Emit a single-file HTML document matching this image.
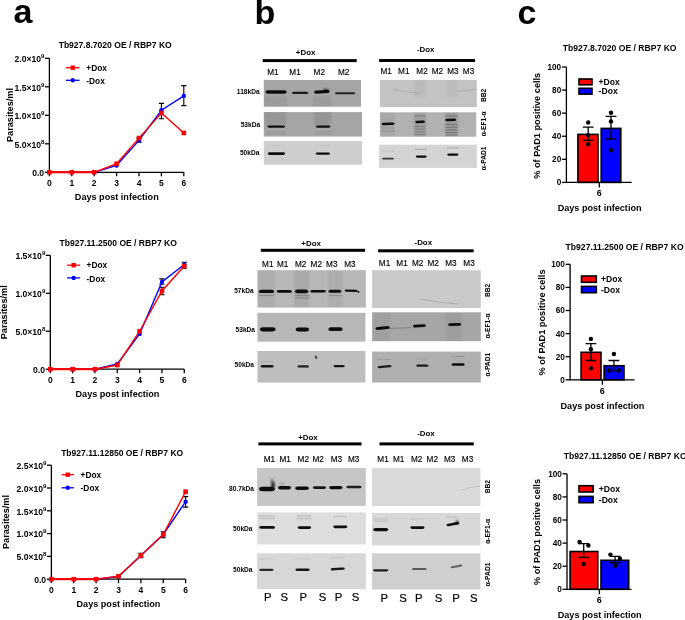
<!DOCTYPE html>
<html><head><meta charset="utf-8"><style>
html,body{margin:0;padding:0;background:#fff;}
body{width:685px;height:620px;overflow:hidden;}
svg{display:block;font-family:"Liberation Sans", sans-serif;will-change:transform;}
</style></head><body>
<svg width="685" height="620" viewBox="0 0 685 620">
<defs><filter id="bl" x="-20%" y="-200%" width="140%" height="500%"><feGaussianBlur stdDeviation="0.65"/></filter><filter id="bl3" x="-20%" y="-300%" width="140%" height="700%"><feGaussianBlur stdDeviation="0.6"/></filter><filter id="bl2" x="-50%" y="-50%" width="200%" height="200%"><feGaussianBlur stdDeviation="1.2"/></filter></defs>
<rect width="685" height="620" fill="#fff"/>
<text x="13.60" y="22.50" font-size="34" font-weight="bold" text-anchor="start" fill="#000" >a</text>
<text x="254.60" y="23.50" font-size="34" font-weight="bold" text-anchor="start" fill="#000" >b</text>
<text x="517.40" y="23.70" font-size="34" font-weight="bold" text-anchor="start" fill="#000" >c</text>
<text x="115.20" y="47.80" font-size="8.55" font-weight="bold" text-anchor="middle" fill="#000" >Tb927.8.7020 OE / RBP7 KO</text>
<path d="M49.40,58.30 L49.40,172.30 L183.80,172.30" fill="none" stroke="#000" stroke-width="1.3"/>
<line x1="44.90" y1="172.30" x2="49.40" y2="172.30" stroke="#000" stroke-width="1.3"/>
<text x="44.10" y="175.90" font-size="8.6" font-weight="bold" text-anchor="end" fill="#000" >0.0</text>
<line x1="44.90" y1="143.80" x2="49.40" y2="143.80" stroke="#000" stroke-width="1.3"/>
<text x="44.40" y="147.50" font-size="8.6" font-weight="bold" text-anchor="end">5.0×10<tspan font-size="6.1" dy="-3.9">8</tspan></text>
<line x1="44.90" y1="115.30" x2="49.40" y2="115.30" stroke="#000" stroke-width="1.3"/>
<text x="44.40" y="119.00" font-size="8.6" font-weight="bold" text-anchor="end">1.0×10<tspan font-size="6.1" dy="-3.9">9</tspan></text>
<line x1="44.90" y1="86.80" x2="49.40" y2="86.80" stroke="#000" stroke-width="1.3"/>
<text x="44.40" y="90.50" font-size="8.6" font-weight="bold" text-anchor="end">1.5×10<tspan font-size="6.1" dy="-3.9">9</tspan></text>
<line x1="44.90" y1="58.30" x2="49.40" y2="58.30" stroke="#000" stroke-width="1.3"/>
<text x="44.40" y="62.00" font-size="8.6" font-weight="bold" text-anchor="end">2.0×10<tspan font-size="6.1" dy="-3.9">9</tspan></text>
<line x1="49.40" y1="172.30" x2="49.40" y2="176.30" stroke="#000" stroke-width="1.3"/>
<text x="49.40" y="185.60" font-size="8.5" font-weight="bold" text-anchor="middle" fill="#000" >0</text>
<line x1="71.80" y1="172.30" x2="71.80" y2="176.30" stroke="#000" stroke-width="1.3"/>
<text x="71.80" y="185.60" font-size="8.5" font-weight="bold" text-anchor="middle" fill="#000" >1</text>
<line x1="94.20" y1="172.30" x2="94.20" y2="176.30" stroke="#000" stroke-width="1.3"/>
<text x="94.20" y="185.60" font-size="8.5" font-weight="bold" text-anchor="middle" fill="#000" >2</text>
<line x1="116.60" y1="172.30" x2="116.60" y2="176.30" stroke="#000" stroke-width="1.3"/>
<text x="116.60" y="185.60" font-size="8.5" font-weight="bold" text-anchor="middle" fill="#000" >3</text>
<line x1="139.00" y1="172.30" x2="139.00" y2="176.30" stroke="#000" stroke-width="1.3"/>
<text x="139.00" y="185.60" font-size="8.5" font-weight="bold" text-anchor="middle" fill="#000" >4</text>
<line x1="161.40" y1="172.30" x2="161.40" y2="176.30" stroke="#000" stroke-width="1.3"/>
<text x="161.40" y="185.60" font-size="8.5" font-weight="bold" text-anchor="middle" fill="#000" >5</text>
<line x1="183.80" y1="172.30" x2="183.80" y2="176.30" stroke="#000" stroke-width="1.3"/>
<text x="183.80" y="185.60" font-size="8.5" font-weight="bold" text-anchor="middle" fill="#000" >6</text>
<text x="116.80" y="199.60" font-size="9.1" font-weight="bold" text-anchor="middle" fill="#000" >Days post infection</text>
<text x="0" y="0" font-size="9.2" font-weight="bold" text-anchor="middle" transform="translate(9.70,115.00) rotate(-90)" dy="3.31">Parasites/ml</text>
<line x1="66" y1="67.7" x2="79.5" y2="67.7" stroke="#f00" stroke-width="1.3"/>
<rect x="70.55" y="65.50" width="4.4" height="4.4" fill="#f00"/>
<text x="86.30" y="70.80" font-size="8.35" font-weight="bold" text-anchor="start" fill="#000" >+Dox</text>
<line x1="66" y1="80.3" x2="79.5" y2="80.3" stroke="#00f" stroke-width="1.3"/>
<circle cx="72.75" cy="80.30" r="2.2" fill="#00f"/>
<text x="86.30" y="83.90" font-size="8.35" font-weight="bold" text-anchor="start" fill="#000" >-Dox</text>
<path d="M161.40,118.72 L161.40,103.33 M158.80,118.72 L164.00,118.72 M158.80,103.33 L164.00,103.33" stroke="#000" stroke-width="1.1" fill="none"/>
<path d="M183.80,105.61 L183.80,85.66 M181.20,105.61 L186.40,105.61 M181.20,85.66 L186.40,85.66" stroke="#000" stroke-width="1.1" fill="none"/>
<path d="M139.00,142.09 L139.00,138.10 M136.40,142.09 L141.60,142.09 M136.40,138.10 L141.60,138.10" stroke="#000" stroke-width="1.1" fill="none"/>
<polyline points="49.40,172.30 71.80,172.30 94.20,172.30 116.60,165.46 139.00,140.38 161.40,110.17 183.80,95.92" fill="none" stroke="#00f" stroke-width="1.4"/>
<circle cx="49.40" cy="172.30" r="2.2" fill="#00f"/>
<circle cx="71.80" cy="172.30" r="2.2" fill="#00f"/>
<circle cx="94.20" cy="172.30" r="2.2" fill="#00f"/>
<circle cx="116.60" cy="165.46" r="2.2" fill="#00f"/>
<circle cx="139.00" cy="140.38" r="2.2" fill="#00f"/>
<circle cx="161.40" cy="110.17" r="2.2" fill="#00f"/>
<circle cx="183.80" cy="95.92" r="2.2" fill="#00f"/>
<polyline points="49.40,172.30 71.80,172.30 94.20,172.30 116.60,163.75 139.00,138.10 161.40,113.02 183.80,132.97" fill="none" stroke="#f00" stroke-width="1.4"/>
<rect x="49.40" y="171.30" width="44.80" height="2.0" fill="#f00"/>
<rect x="47.10" y="170.00" width="4.6" height="4.6" fill="#f00"/>
<rect x="69.50" y="170.00" width="4.6" height="4.6" fill="#f00"/>
<rect x="91.90" y="170.00" width="4.6" height="4.6" fill="#f00"/>
<rect x="114.30" y="161.45" width="4.6" height="4.6" fill="#f00"/>
<rect x="136.70" y="135.80" width="4.6" height="4.6" fill="#f00"/>
<rect x="159.10" y="110.72" width="4.6" height="4.6" fill="#f00"/>
<rect x="181.50" y="130.67" width="4.6" height="4.6" fill="#f00"/>
<text x="118.20" y="245.80" font-size="8.55" font-weight="bold" text-anchor="middle" fill="#000" >Tb927.11.2500 OE / RBP7 KO</text>
<path d="M50.30,255.35 L50.30,369.20 L184.28,369.20" fill="none" stroke="#000" stroke-width="1.3"/>
<line x1="45.80" y1="369.20" x2="50.30" y2="369.20" stroke="#000" stroke-width="1.3"/>
<text x="45.00" y="372.80" font-size="8.6" font-weight="bold" text-anchor="end" fill="#000" >0.0</text>
<line x1="45.80" y1="331.25" x2="50.30" y2="331.25" stroke="#000" stroke-width="1.3"/>
<text x="45.30" y="334.95" font-size="8.6" font-weight="bold" text-anchor="end">5.0×10<tspan font-size="6.1" dy="-3.9">8</tspan></text>
<line x1="45.80" y1="293.30" x2="50.30" y2="293.30" stroke="#000" stroke-width="1.3"/>
<text x="45.30" y="297.00" font-size="8.6" font-weight="bold" text-anchor="end">1.0×10<tspan font-size="6.1" dy="-3.9">9</tspan></text>
<line x1="45.80" y1="255.35" x2="50.30" y2="255.35" stroke="#000" stroke-width="1.3"/>
<text x="45.30" y="259.05" font-size="8.6" font-weight="bold" text-anchor="end">1.5×10<tspan font-size="6.1" dy="-3.9">9</tspan></text>
<line x1="50.30" y1="369.20" x2="50.30" y2="373.20" stroke="#000" stroke-width="1.3"/>
<text x="50.30" y="382.50" font-size="8.5" font-weight="bold" text-anchor="middle" fill="#000" >0</text>
<line x1="72.63" y1="369.20" x2="72.63" y2="373.20" stroke="#000" stroke-width="1.3"/>
<text x="72.63" y="382.50" font-size="8.5" font-weight="bold" text-anchor="middle" fill="#000" >1</text>
<line x1="94.96" y1="369.20" x2="94.96" y2="373.20" stroke="#000" stroke-width="1.3"/>
<text x="94.96" y="382.50" font-size="8.5" font-weight="bold" text-anchor="middle" fill="#000" >2</text>
<line x1="117.29" y1="369.20" x2="117.29" y2="373.20" stroke="#000" stroke-width="1.3"/>
<text x="117.29" y="382.50" font-size="8.5" font-weight="bold" text-anchor="middle" fill="#000" >3</text>
<line x1="139.62" y1="369.20" x2="139.62" y2="373.20" stroke="#000" stroke-width="1.3"/>
<text x="139.62" y="382.50" font-size="8.5" font-weight="bold" text-anchor="middle" fill="#000" >4</text>
<line x1="161.95" y1="369.20" x2="161.95" y2="373.20" stroke="#000" stroke-width="1.3"/>
<text x="161.95" y="382.50" font-size="8.5" font-weight="bold" text-anchor="middle" fill="#000" >5</text>
<line x1="184.28" y1="369.20" x2="184.28" y2="373.20" stroke="#000" stroke-width="1.3"/>
<text x="184.28" y="382.50" font-size="8.5" font-weight="bold" text-anchor="middle" fill="#000" >6</text>
<text x="117.50" y="396.50" font-size="9.1" font-weight="bold" text-anchor="middle" fill="#000" >Days post infection</text>
<text x="0" y="0" font-size="9.2" font-weight="bold" text-anchor="middle" transform="translate(3.90,312.30) rotate(-90)" dy="3.31">Parasites/ml</text>
<line x1="67.1" y1="265.2" x2="80.2" y2="265.2" stroke="#f00" stroke-width="1.3"/>
<rect x="71.45" y="263.00" width="4.4" height="4.4" fill="#f00"/>
<text x="86.60" y="268.30" font-size="8.35" font-weight="bold" text-anchor="start" fill="#000" >+Dox</text>
<line x1="67.1" y1="277.9" x2="80.2" y2="277.9" stroke="#00f" stroke-width="1.3"/>
<circle cx="73.65" cy="277.90" r="2.2" fill="#00f"/>
<text x="86.60" y="281.50" font-size="8.35" font-weight="bold" text-anchor="start" fill="#000" >-Dox</text>
<path d="M161.95,294.82 L161.95,287.23 M159.35,294.82 L164.55,294.82 M159.35,287.23 L164.55,287.23" stroke="#000" stroke-width="1.1" fill="none"/>
<path d="M161.95,284.19 L161.95,278.88 M159.35,284.19 L164.55,284.19 M159.35,278.88 L164.55,278.88" stroke="#000" stroke-width="1.1" fill="none"/>
<path d="M184.28,268.25 L184.28,262.18 M181.68,268.25 L186.88,268.25 M181.68,262.18 L186.88,262.18" stroke="#000" stroke-width="1.1" fill="none"/>
<polyline points="50.30,369.20 72.63,369.20 94.96,369.20 117.29,363.89 139.62,333.91 161.95,281.91 184.28,264.46" fill="none" stroke="#00f" stroke-width="1.4"/>
<circle cx="50.30" cy="369.20" r="2.2" fill="#00f"/>
<circle cx="72.63" cy="369.20" r="2.2" fill="#00f"/>
<circle cx="94.96" cy="369.20" r="2.2" fill="#00f"/>
<circle cx="117.29" cy="363.89" r="2.2" fill="#00f"/>
<circle cx="139.62" cy="333.91" r="2.2" fill="#00f"/>
<circle cx="161.95" cy="281.91" r="2.2" fill="#00f"/>
<circle cx="184.28" cy="264.46" r="2.2" fill="#00f"/>
<polyline points="50.30,369.20 72.63,369.20 94.96,369.20 117.29,365.03 139.62,331.25 161.95,291.02 184.28,265.98" fill="none" stroke="#f00" stroke-width="1.4"/>
<rect x="50.30" y="368.20" width="44.66" height="2.0" fill="#f00"/>
<rect x="48.00" y="366.90" width="4.6" height="4.6" fill="#f00"/>
<rect x="70.33" y="366.90" width="4.6" height="4.6" fill="#f00"/>
<rect x="92.66" y="366.90" width="4.6" height="4.6" fill="#f00"/>
<rect x="114.99" y="362.73" width="4.6" height="4.6" fill="#f00"/>
<rect x="137.32" y="328.95" width="4.6" height="4.6" fill="#f00"/>
<rect x="159.65" y="288.72" width="4.6" height="4.6" fill="#f00"/>
<rect x="181.98" y="263.68" width="4.6" height="4.6" fill="#f00"/>
<text x="122.20" y="455.70" font-size="8.55" font-weight="bold" text-anchor="middle" fill="#000" >Tb927.11.12850 OE / RBP7 KO</text>
<path d="M51.40,465.20 L51.40,579.20 L185.62,579.20" fill="none" stroke="#000" stroke-width="1.3"/>
<line x1="46.90" y1="579.20" x2="51.40" y2="579.20" stroke="#000" stroke-width="1.3"/>
<text x="46.10" y="582.80" font-size="8.6" font-weight="bold" text-anchor="end" fill="#000" >0.0</text>
<line x1="46.90" y1="556.40" x2="51.40" y2="556.40" stroke="#000" stroke-width="1.3"/>
<text x="46.40" y="560.10" font-size="8.6" font-weight="bold" text-anchor="end">5.0×10<tspan font-size="6.1" dy="-3.9">8</tspan></text>
<line x1="46.90" y1="533.60" x2="51.40" y2="533.60" stroke="#000" stroke-width="1.3"/>
<text x="46.40" y="537.30" font-size="8.6" font-weight="bold" text-anchor="end">1.0×10<tspan font-size="6.1" dy="-3.9">9</tspan></text>
<line x1="46.90" y1="510.80" x2="51.40" y2="510.80" stroke="#000" stroke-width="1.3"/>
<text x="46.40" y="514.50" font-size="8.6" font-weight="bold" text-anchor="end">1.5×10<tspan font-size="6.1" dy="-3.9">9</tspan></text>
<line x1="46.90" y1="488.00" x2="51.40" y2="488.00" stroke="#000" stroke-width="1.3"/>
<text x="46.40" y="491.70" font-size="8.6" font-weight="bold" text-anchor="end">2.0×10<tspan font-size="6.1" dy="-3.9">9</tspan></text>
<line x1="46.90" y1="465.20" x2="51.40" y2="465.20" stroke="#000" stroke-width="1.3"/>
<text x="46.40" y="468.90" font-size="8.6" font-weight="bold" text-anchor="end">2.5×10<tspan font-size="6.1" dy="-3.9">9</tspan></text>
<line x1="51.40" y1="579.20" x2="51.40" y2="583.20" stroke="#000" stroke-width="1.3"/>
<text x="51.40" y="592.50" font-size="8.5" font-weight="bold" text-anchor="middle" fill="#000" >0</text>
<line x1="73.77" y1="579.20" x2="73.77" y2="583.20" stroke="#000" stroke-width="1.3"/>
<text x="73.77" y="592.50" font-size="8.5" font-weight="bold" text-anchor="middle" fill="#000" >1</text>
<line x1="96.14" y1="579.20" x2="96.14" y2="583.20" stroke="#000" stroke-width="1.3"/>
<text x="96.14" y="592.50" font-size="8.5" font-weight="bold" text-anchor="middle" fill="#000" >2</text>
<line x1="118.51" y1="579.20" x2="118.51" y2="583.20" stroke="#000" stroke-width="1.3"/>
<text x="118.51" y="592.50" font-size="8.5" font-weight="bold" text-anchor="middle" fill="#000" >3</text>
<line x1="140.88" y1="579.20" x2="140.88" y2="583.20" stroke="#000" stroke-width="1.3"/>
<text x="140.88" y="592.50" font-size="8.5" font-weight="bold" text-anchor="middle" fill="#000" >4</text>
<line x1="163.25" y1="579.20" x2="163.25" y2="583.20" stroke="#000" stroke-width="1.3"/>
<text x="163.25" y="592.50" font-size="8.5" font-weight="bold" text-anchor="middle" fill="#000" >5</text>
<line x1="185.62" y1="579.20" x2="185.62" y2="583.20" stroke="#000" stroke-width="1.3"/>
<text x="185.62" y="592.50" font-size="8.5" font-weight="bold" text-anchor="middle" fill="#000" >6</text>
<text x="118.50" y="607.00" font-size="9.1" font-weight="bold" text-anchor="middle" fill="#000" >Days post infection</text>
<text x="0" y="0" font-size="9.2" font-weight="bold" text-anchor="middle" transform="translate(5.20,522.00) rotate(-90)" dy="3.31">Parasites/ml</text>
<line x1="61.5" y1="474.7" x2="73.9" y2="474.7" stroke="#f00" stroke-width="1.3"/>
<rect x="65.50" y="472.50" width="4.4" height="4.4" fill="#f00"/>
<text x="80.60" y="477.80" font-size="8.35" font-weight="bold" text-anchor="start" fill="#000" >+Dox</text>
<line x1="61.5" y1="487.8" x2="73.9" y2="487.8" stroke="#00f" stroke-width="1.3"/>
<circle cx="67.70" cy="487.80" r="2.2" fill="#00f"/>
<text x="80.60" y="491.40" font-size="8.35" font-weight="bold" text-anchor="start" fill="#000" >-Dox</text>
<path d="M140.88,557.77 L140.88,553.21 M138.28,557.77 L143.48,557.77 M138.28,553.21 L143.48,553.21" stroke="#000" stroke-width="1.1" fill="none"/>
<path d="M163.25,537.70 L163.25,531.78 M160.65,537.70 L165.85,537.70 M160.65,531.78 L165.85,531.78" stroke="#000" stroke-width="1.1" fill="none"/>
<path d="M185.62,507.15 L185.62,496.66 M183.02,507.15 L188.22,507.15 M183.02,496.66 L188.22,496.66" stroke="#000" stroke-width="1.1" fill="none"/>
<polyline points="51.40,579.20 73.77,579.20 96.14,579.20 118.51,576.46 140.88,555.49 163.25,534.51 185.62,501.68" fill="none" stroke="#00f" stroke-width="1.4"/>
<circle cx="51.40" cy="579.20" r="2.2" fill="#00f"/>
<circle cx="73.77" cy="579.20" r="2.2" fill="#00f"/>
<circle cx="96.14" cy="579.20" r="2.2" fill="#00f"/>
<circle cx="118.51" cy="576.46" r="2.2" fill="#00f"/>
<circle cx="140.88" cy="555.49" r="2.2" fill="#00f"/>
<circle cx="163.25" cy="534.51" r="2.2" fill="#00f"/>
<circle cx="185.62" cy="501.68" r="2.2" fill="#00f"/>
<polyline points="51.40,579.20 73.77,579.20 96.14,579.20 118.51,576.24 140.88,555.49 163.25,534.51 185.62,491.65" fill="none" stroke="#f00" stroke-width="1.4"/>
<rect x="51.40" y="578.20" width="44.74" height="2.0" fill="#f00"/>
<rect x="49.10" y="576.90" width="4.6" height="4.6" fill="#f00"/>
<rect x="71.47" y="576.90" width="4.6" height="4.6" fill="#f00"/>
<rect x="93.84" y="576.90" width="4.6" height="4.6" fill="#f00"/>
<rect x="116.21" y="573.94" width="4.6" height="4.6" fill="#f00"/>
<rect x="138.58" y="553.19" width="4.6" height="4.6" fill="#f00"/>
<rect x="160.95" y="532.21" width="4.6" height="4.6" fill="#f00"/>
<rect x="183.32" y="489.35" width="4.6" height="4.6" fill="#f00"/>
<rect x="262.70" y="59.10" width="94.00" height="3" fill="#000"/>
<text x="305.60" y="54.95" font-size="7.9" font-weight="bold" text-anchor="middle" fill="#000" >+Dox</text>
<rect x="379.10" y="59.00" width="96.00" height="3" fill="#000"/>
<text x="425.70" y="52.15" font-size="7.9" font-weight="bold" text-anchor="middle" fill="#000" >-Dox</text>
<text x="272.90" y="74.80" font-size="8.2" font-weight="normal" text-anchor="middle" fill="#000" stroke="#000" stroke-width="0.15">M1</text>
<text x="295.00" y="74.80" font-size="8.2" font-weight="normal" text-anchor="middle" fill="#000" stroke="#000" stroke-width="0.15">M1</text>
<text x="319.30" y="74.80" font-size="8.2" font-weight="normal" text-anchor="middle" fill="#000" stroke="#000" stroke-width="0.15">M2</text>
<text x="343.60" y="74.80" font-size="8.2" font-weight="normal" text-anchor="middle" fill="#000" stroke="#000" stroke-width="0.15">M2</text>
<text x="386.10" y="74.10" font-size="8.2" font-weight="normal" text-anchor="middle" fill="#000" stroke="#000" stroke-width="0.15">M1</text>
<text x="403.80" y="74.10" font-size="8.2" font-weight="normal" text-anchor="middle" fill="#000" stroke="#000" stroke-width="0.15">M1</text>
<text x="422.00" y="74.10" font-size="8.2" font-weight="normal" text-anchor="middle" fill="#000" stroke="#000" stroke-width="0.15">M2</text>
<text x="437.40" y="74.10" font-size="8.2" font-weight="normal" text-anchor="middle" fill="#000" stroke="#000" stroke-width="0.15">M2</text>
<text x="452.90" y="74.10" font-size="8.2" font-weight="normal" text-anchor="middle" fill="#000" stroke="#000" stroke-width="0.15">M3</text>
<text x="468.50" y="74.10" font-size="8.2" font-weight="normal" text-anchor="middle" fill="#000" stroke="#000" stroke-width="0.15">M3</text>
<text x="259.60" y="93.70" font-size="6.6" font-weight="bold" text-anchor="end" fill="#000" >118kDa</text>
<text x="260.10" y="127.30" font-size="6.6" font-weight="bold" text-anchor="end" fill="#000" >53kDa</text>
<text x="259.40" y="155.10" font-size="6.6" font-weight="bold" text-anchor="end" fill="#000" >50kDa</text>
<rect x="263.80" y="80.00" width="97.20" height="26.70" fill="#a5a5a5"/>
<g clip-path="url(#c2638_800)">
<clipPath id="c2638_800"><rect x="263.80" y="80.00" width="97.20" height="26.70"/></clipPath>
<rect x="264.00" y="96.00" width="23.00" height="11.00" fill="#000" opacity="0.06" filter="url(#bl2)"/>
<rect x="313.00" y="96.00" width="18.00" height="11.00" fill="#000" opacity="0.06" filter="url(#bl2)"/>
<path d="M265.50,92.00 Q265.50,90.20 268.20,90.20 L284.00,90.20 Q286.70,90.20 286.70,92.00 Q286.70,93.80 284.00,93.80 L268.20,93.80 Q265.50,93.80 265.50,92.00 Z" fill="#0a0a0a" opacity="1" filter="url(#bl)"/>
<path d="M292.00,92.90 Q292.00,91.80 293.65,91.80 L306.65,91.80 Q308.30,91.80 308.30,92.90 Q308.30,94.00 306.65,94.00 L293.65,94.00 Q292.00,94.00 292.00,92.90 Z" fill="#0a0a0a" opacity="0.9" filter="url(#bl)"/>
<path d="M314.00,92.10 Q314.00,90.50 316.40,90.50 L327.20,89.90 Q329.60,89.90 329.60,91.50 Q329.60,93.10 327.20,93.10 L316.40,93.70 Q314.00,93.70 314.00,92.10 Z" fill="#0a0a0a" opacity="1" filter="url(#bl)"/>
<ellipse cx="326.00" cy="90.50" rx="3.00" ry="1.40" fill="#000" opacity="0.8" filter="url(#bl2)"/>
<path d="M335.00,93.30 Q335.00,92.30 336.50,92.30 L353.70,92.30 Q355.20,92.30 355.20,93.30 Q355.20,94.30 353.70,94.30 L336.50,94.30 Q335.00,94.30 335.00,93.30 Z" fill="#0a0a0a" opacity="0.85" filter="url(#bl)"/>
</g>
<rect x="263.80" y="112.10" width="98.20" height="24.50" fill="#a5a5a5"/>
<g clip-path="url(#c2638_1121)">
<clipPath id="c2638_1121"><rect x="263.80" y="112.10" width="98.20" height="24.50"/></clipPath>
<rect x="264.50" y="110.00" width="22.00" height="15.00" fill="#000" opacity="0.09" filter="url(#bl2)"/>
<rect x="314.00" y="110.00" width="17.50" height="15.00" fill="#000" opacity="0.09" filter="url(#bl2)"/>
<path d="M267.40,126.60 Q267.40,125.45 269.12,125.45 L283.38,125.45 Q285.10,125.45 285.10,126.60 Q285.10,127.75 283.38,127.75 L269.12,127.75 Q267.40,127.75 267.40,126.60 Z" fill="#0a0a0a" opacity="1" filter="url(#bl)"/>
<path d="M315.70,126.60 Q315.70,125.50 317.35,125.50 L328.75,125.50 Q330.40,125.50 330.40,126.60 Q330.40,127.70 328.75,127.70 L317.35,127.70 Q315.70,127.70 315.70,126.60 Z" fill="#0a0a0a" opacity="1" filter="url(#bl)"/>
<rect x="266.00" y="130.90" width="20.00" height="1.20" fill="#000" opacity="0.080" filter="url(#bl3)"/>
<rect x="266.00" y="133.20" width="20.00" height="1.20" fill="#000" opacity="0.080" filter="url(#bl3)"/>
<rect x="315.00" y="130.90" width="16.00" height="1.20" fill="#000" opacity="0.080" filter="url(#bl3)"/>
<rect x="315.00" y="133.20" width="16.00" height="1.20" fill="#000" opacity="0.080" filter="url(#bl3)"/>
</g>
<rect x="263.80" y="141.00" width="98.20" height="23.70" fill="#cecece"/>
<g clip-path="url(#c2638_1410)">
<clipPath id="c2638_1410"><rect x="263.80" y="141.00" width="98.20" height="23.70"/></clipPath>
<path d="M267.80,153.60 Q267.80,152.25 269.82,152.25 L283.08,152.25 Q285.10,152.25 285.10,153.60 Q285.10,154.95 283.08,154.95 L269.82,154.95 Q267.80,154.95 267.80,153.60 Z" fill="#0a0a0a" opacity="1" filter="url(#bl)"/>
<path d="M315.70,153.60 Q315.70,152.50 317.35,152.50 L328.35,152.50 Q330.00,152.50 330.00,153.60 Q330.00,154.70 328.35,154.70 L317.35,154.70 Q315.70,154.70 315.70,153.60 Z" fill="#0a0a0a" opacity="1" filter="url(#bl)"/>
<rect x="267.00" y="144.90" width="18.00" height="1.20" fill="#000" opacity="0.048" filter="url(#bl3)"/>
<rect x="315.00" y="144.90" width="15.00" height="1.20" fill="#000" opacity="0.048" filter="url(#bl3)"/>
</g>
<rect x="379.90" y="79.90" width="96.90" height="27.20" fill="#c3c3c3"/>
<g clip-path="url(#c3799_799)">
<clipPath id="c3799_799"><rect x="379.90" y="79.90" width="96.90" height="27.20"/></clipPath>
<rect x="414.00" y="80.00" width="12.00" height="17.00" fill="#000" opacity="0.04" filter="url(#bl2)"/>
<rect x="446.00" y="80.00" width="12.00" height="17.00" fill="#000" opacity="0.03" filter="url(#bl2)"/>
<path d="M393,89.5 Q405,92 420,93.5" fill="none" stroke="#111" stroke-width="0.8" opacity="0.14" filter="url(#bl)"/>
<path d="M457,91.5 Q466,90 476,89.5" fill="none" stroke="#111" stroke-width="0.8" opacity="0.14" filter="url(#bl)"/>
</g>
<rect x="379.90" y="112.30" width="96.30" height="24.40" fill="#b1b1b1"/>
<g clip-path="url(#c3799_1123)">
<clipPath id="c3799_1123"><rect x="379.90" y="112.30" width="96.30" height="24.40"/></clipPath>
<rect x="381.00" y="112.30" width="14.00" height="24.40" fill="#000" opacity="0.05" filter="url(#bl2)"/>
<rect x="414.00" y="112.30" width="12.00" height="24.40" fill="#000" opacity="0.1" filter="url(#bl2)"/>
<rect x="445.00" y="112.30" width="13.00" height="24.40" fill="#000" opacity="0.12" filter="url(#bl2)"/>
<path d="M381.60,124.00 Q381.60,122.75 383.48,122.75 L392.52,122.45 Q394.40,122.45 394.40,123.70 Q394.40,124.95 392.52,124.95 L383.48,125.25 Q381.60,125.25 381.60,124.00 Z" fill="#0a0a0a" opacity="1" filter="url(#bl)"/>
<path d="M415.30,122.00 Q415.30,120.75 417.18,120.75 L423.12,120.55 Q425.00,120.55 425.00,121.80 Q425.00,123.05 423.12,123.05 L417.18,123.25 Q415.30,123.25 415.30,122.00 Z" fill="#0a0a0a" opacity="1" filter="url(#bl)"/>
<path d="M445.20,120.00 Q445.20,118.70 447.15,118.70 L454.15,118.40 Q456.10,118.40 456.10,119.70 Q456.10,121.00 454.15,121.00 L447.15,121.30 Q445.20,121.30 445.20,120.00 Z" fill="#0a0a0a" opacity="1" filter="url(#bl)"/>
<rect x="414.50" y="115.50" width="11.00" height="1.00" fill="#000" opacity="0.224" filter="url(#bl3)"/>
<rect x="414.50" y="126.00" width="11.00" height="1.00" fill="#000" opacity="0.224" filter="url(#bl3)"/>
<rect x="414.50" y="128.70" width="11.00" height="1.00" fill="#000" opacity="0.224" filter="url(#bl3)"/>
<rect x="414.50" y="131.50" width="11.00" height="1.00" fill="#000" opacity="0.224" filter="url(#bl3)"/>
<rect x="414.50" y="134.00" width="11.00" height="1.00" fill="#000" opacity="0.224" filter="url(#bl3)"/>
<rect x="445.50" y="115.50" width="12.00" height="1.00" fill="#000" opacity="0.256" filter="url(#bl3)"/>
<rect x="445.50" y="124.00" width="12.00" height="1.00" fill="#000" opacity="0.256" filter="url(#bl3)"/>
<rect x="445.50" y="126.70" width="12.00" height="1.00" fill="#000" opacity="0.256" filter="url(#bl3)"/>
<rect x="445.50" y="129.50" width="12.00" height="1.00" fill="#000" opacity="0.256" filter="url(#bl3)"/>
<rect x="445.50" y="132.00" width="12.00" height="1.00" fill="#000" opacity="0.256" filter="url(#bl3)"/>
<rect x="445.50" y="134.50" width="12.00" height="1.00" fill="#000" opacity="0.256" filter="url(#bl3)"/>
<rect x="381.50" y="127.50" width="13.00" height="1.00" fill="#000" opacity="0.120" filter="url(#bl3)"/>
<rect x="381.50" y="130.50" width="13.00" height="1.00" fill="#000" opacity="0.120" filter="url(#bl3)"/>
</g>
<rect x="379.00" y="144.70" width="97.80" height="23.20" fill="#d4d4d4"/>
<g clip-path="url(#c3790_1447)">
<clipPath id="c3790_1447"><rect x="379.00" y="144.70" width="97.80" height="23.20"/></clipPath>
<path d="M382.00,158.60 Q382.00,157.65 383.43,157.65 L392.57,157.65 Q394.00,157.65 394.00,158.60 Q394.00,159.55 392.57,159.55 L383.43,159.55 Q382.00,159.55 382.00,158.60 Z" fill="#0a0a0a" opacity="0.75" filter="url(#bl)"/>
<path d="M415.80,156.60 Q415.80,155.55 417.38,155.55 L425.12,155.55 Q426.70,155.55 426.70,156.60 Q426.70,157.65 425.12,157.65 L417.38,157.65 Q415.80,157.65 415.80,156.60 Z" fill="#0a0a0a" opacity="1" filter="url(#bl)"/>
<path d="M447.30,154.70 Q447.30,153.60 448.95,153.60 L456.75,153.60 Q458.40,153.60 458.40,154.70 Q458.40,155.80 456.75,155.80 L448.95,155.80 Q447.30,155.80 447.30,154.70 Z" fill="#0a0a0a" opacity="1" filter="url(#bl)"/>
<rect x="415.00" y="148.90" width="12.00" height="1.20" fill="#000" opacity="0.160" filter="url(#bl3)"/>
<rect x="447.00" y="147.40" width="12.00" height="1.20" fill="#000" opacity="0.160" filter="url(#bl3)"/>
<rect x="382.00" y="150.40" width="12.00" height="1.20" fill="#000" opacity="0.080" filter="url(#bl3)"/>
</g>
<text x="0" y="0" font-size="6.7" font-weight="bold" text-anchor="middle" transform="translate(483.40,95.40) rotate(-90)" dy="2.41">BB2</text>
<text x="0" y="0" font-size="6.7" font-weight="bold" text-anchor="middle" transform="translate(483.40,123.80) rotate(-90)" dy="2.41">α-EF1-α</text>
<text x="0" y="0" font-size="6.7" font-weight="bold" text-anchor="middle" transform="translate(483.40,158.30) rotate(-90)" dy="2.41">α-PAD1</text>
<rect x="260.80" y="248.80" width="104.30" height="3" fill="#000"/>
<text x="311.10" y="246.45" font-size="7.9" font-weight="bold" text-anchor="middle" fill="#000" >+Dox</text>
<rect x="378.10" y="249.30" width="95.50" height="3" fill="#000"/>
<text x="423.30" y="244.65" font-size="7.9" font-weight="bold" text-anchor="middle" fill="#000" >-Dox</text>
<text x="267.80" y="267.40" font-size="8.2" font-weight="normal" text-anchor="middle" fill="#000" stroke="#000" stroke-width="0.15">M1</text>
<text x="282.70" y="267.40" font-size="8.2" font-weight="normal" text-anchor="middle" fill="#000" stroke="#000" stroke-width="0.15">M1</text>
<text x="300.60" y="267.40" font-size="8.2" font-weight="normal" text-anchor="middle" fill="#000" stroke="#000" stroke-width="0.15">M2</text>
<text x="316.30" y="267.40" font-size="8.2" font-weight="normal" text-anchor="middle" fill="#000" stroke="#000" stroke-width="0.15">M2</text>
<text x="331.80" y="267.40" font-size="8.2" font-weight="normal" text-anchor="middle" fill="#000" stroke="#000" stroke-width="0.15">M3</text>
<text x="349.90" y="267.40" font-size="8.2" font-weight="normal" text-anchor="middle" fill="#000" stroke="#000" stroke-width="0.15">M3</text>
<text x="384.50" y="265.90" font-size="8.2" font-weight="normal" text-anchor="middle" fill="#000" stroke="#000" stroke-width="0.15">M1</text>
<text x="402.00" y="265.90" font-size="8.2" font-weight="normal" text-anchor="middle" fill="#000" stroke="#000" stroke-width="0.15">M1</text>
<text x="417.60" y="265.90" font-size="8.2" font-weight="normal" text-anchor="middle" fill="#000" stroke="#000" stroke-width="0.15">M2</text>
<text x="433.10" y="265.90" font-size="8.2" font-weight="normal" text-anchor="middle" fill="#000" stroke="#000" stroke-width="0.15">M2</text>
<text x="450.90" y="265.90" font-size="8.2" font-weight="normal" text-anchor="middle" fill="#000" stroke="#000" stroke-width="0.15">M3</text>
<text x="469.00" y="265.90" font-size="8.2" font-weight="normal" text-anchor="middle" fill="#000" stroke="#000" stroke-width="0.15">M3</text>
<text x="253.60" y="293.10" font-size="6.6" font-weight="bold" text-anchor="end" fill="#000" >57kDa</text>
<text x="255.00" y="332.30" font-size="6.6" font-weight="bold" text-anchor="end" fill="#000" >53kDa</text>
<text x="254.00" y="366.80" font-size="6.6" font-weight="bold" text-anchor="end" fill="#000" >50kDa</text>
<rect x="257.40" y="270.20" width="108.50" height="37.40" fill="#b7b7b7"/>
<g clip-path="url(#c2574_2702)">
<clipPath id="c2574_2702"><rect x="257.40" y="270.20" width="108.50" height="37.40"/></clipPath>
<rect x="258.00" y="270.20" width="17.00" height="37.40" fill="#000" opacity="0.05" filter="url(#bl2)"/>
<rect x="294.00" y="270.20" width="15.00" height="37.40" fill="#000" opacity="0.07" filter="url(#bl2)"/>
<rect x="328.00" y="270.20" width="14.00" height="37.40" fill="#000" opacity="0.05" filter="url(#bl2)"/>
<path d="M258.70,291.40 Q258.70,289.70 261.25,289.70 L271.65,289.70 Q274.20,289.70 274.20,291.40 Q274.20,293.10 271.65,293.10 L261.25,293.10 Q258.70,293.10 258.70,291.40 Z" fill="#0a0a0a" opacity="1" filter="url(#bl)"/>
<path d="M276.80,291.40 Q276.80,290.05 278.82,290.05 L289.78,290.05 Q291.80,290.05 291.80,291.40 Q291.80,292.75 289.78,292.75 L278.82,292.75 Q276.80,292.75 276.80,291.40 Z" fill="#0a0a0a" opacity="1" filter="url(#bl)"/>
<path d="M294.90,291.40 Q294.90,289.60 297.60,289.60 L305.60,289.60 Q308.30,289.60 308.30,291.40 Q308.30,293.20 305.60,293.20 L297.60,293.20 Q294.90,293.20 294.90,291.40 Z" fill="#0a0a0a" opacity="1" filter="url(#bl)"/>
<path d="M310.40,291.20 Q310.40,289.90 312.35,289.90 L323.95,289.90 Q325.90,289.90 325.90,291.20 Q325.90,292.50 323.95,292.50 L312.35,292.50 Q310.40,292.50 310.40,291.20 Z" fill="#0a0a0a" opacity="1" filter="url(#bl)"/>
<path d="M328.40,291.20 Q328.40,289.70 330.65,289.70 L339.15,289.70 Q341.40,289.70 341.40,291.20 Q341.40,292.70 339.15,292.70 L330.65,292.70 Q328.40,292.70 328.40,291.20 Z" fill="#0a0a0a" opacity="1" filter="url(#bl)"/>
<path d="M344.70,290.60 Q344.70,289.40 346.50,289.40 L355.70,289.70 Q357.50,289.70 357.50,290.90 Q357.50,292.10 355.70,292.10 L346.50,291.80 Q344.70,291.80 344.70,290.60 Z" fill="#0a0a0a" opacity="1" filter="url(#bl)"/>
<ellipse cx="358.40" cy="291.90" rx="1.10" ry="0.80" fill="#000" opacity="1.0" filter="url(#bl)"/>
<rect x="259.00" y="294.90" width="15.00" height="1.20" fill="#000" opacity="0.200" filter="url(#bl3)"/>
<rect x="295.00" y="294.90" width="14.00" height="1.20" fill="#000" opacity="0.200" filter="url(#bl3)"/>
<rect x="295.00" y="297.40" width="14.00" height="1.20" fill="#000" opacity="0.200" filter="url(#bl3)"/>
<rect x="329.00" y="294.90" width="13.00" height="1.20" fill="#000" opacity="0.160" filter="url(#bl3)"/>
</g>
<rect x="257.40" y="312.80" width="108.00" height="28.90" fill="#b7b7b7"/>
<g clip-path="url(#c2574_3128)">
<clipPath id="c2574_3128"><rect x="257.40" y="312.80" width="108.00" height="28.90"/></clipPath>
<path d="M260.00,329.30 Q260.00,327.20 263.15,327.20 L272.35,327.20 Q275.50,327.20 275.50,329.30 Q275.50,331.40 272.35,331.40 L263.15,331.40 Q260.00,331.40 260.00,329.30 Z" fill="#0a0a0a" opacity="1" filter="url(#bl)"/>
<path d="M295.70,329.50 Q295.70,327.60 298.55,327.60 L306.15,327.60 Q309.00,327.60 309.00,329.50 Q309.00,331.40 306.15,331.40 L298.55,331.40 Q295.70,331.40 295.70,329.50 Z" fill="#0a0a0a" opacity="1" filter="url(#bl)"/>
<path d="M328.40,329.20 Q328.40,327.35 331.17,327.35 L339.83,327.35 Q342.60,327.35 342.60,329.20 Q342.60,331.05 339.83,331.05 L331.17,331.05 Q328.40,331.05 328.40,329.20 Z" fill="#0a0a0a" opacity="1" filter="url(#bl)"/>
</g>
<rect x="257.40" y="351.00" width="108.00" height="31.50" fill="#bebebe"/>
<g clip-path="url(#c2574_3510)">
<clipPath id="c2574_3510"><rect x="257.40" y="351.00" width="108.00" height="31.50"/></clipPath>
<path d="M260.80,366.20 Q260.80,365.00 262.60,365.00 L271.90,365.00 Q273.70,365.00 273.70,366.20 Q273.70,367.40 271.90,367.40 L262.60,367.40 Q260.80,367.40 260.80,366.20 Z" fill="#0a0a0a" opacity="0.95" filter="url(#bl)"/>
<path d="M297.50,366.40 Q297.50,365.20 299.30,365.20 L307.20,365.20 Q309.00,365.20 309.00,366.40 Q309.00,367.60 307.20,367.60 L299.30,367.60 Q297.50,367.60 297.50,366.40 Z" fill="#0a0a0a" opacity="0.9" filter="url(#bl)"/>
<path d="M333.60,366.20 Q333.60,365.05 335.33,365.05 L342.97,365.05 Q344.70,365.05 344.70,366.20 Q344.70,367.35 342.97,367.35 L335.33,367.35 Q333.60,367.35 333.60,366.20 Z" fill="#0a0a0a" opacity="0.95" filter="url(#bl)"/>
<ellipse cx="316.20" cy="357.60" rx="0.70" ry="1.50" fill="#000" opacity="1.0" filter="url(#bl)"/>
<ellipse cx="315.40" cy="356.20" rx="0.50" ry="0.60" fill="#000" opacity="0.8" filter="url(#bl)"/>
<rect x="260.00" y="360.90" width="14.00" height="1.20" fill="#000" opacity="0.056" filter="url(#bl3)"/>
<rect x="297.00" y="360.90" width="12.00" height="1.20" fill="#000" opacity="0.056" filter="url(#bl3)"/>
</g>
<rect x="372.10" y="270.20" width="108.70" height="37.90" fill="#cacaca"/>
<g clip-path="url(#c3721_2702)">
<clipPath id="c3721_2702"><rect x="372.10" y="270.20" width="108.70" height="37.90"/></clipPath>
<path d="M420,299 Q440,303 458,304" fill="none" stroke="#111" stroke-width="0.8" opacity="0.2" filter="url(#bl)"/>
</g>
<rect x="372.10" y="312.30" width="108.70" height="28.90" fill="#a6a6a6"/>
<g clip-path="url(#c3721_3123)">
<clipPath id="c3721_3123"><rect x="372.10" y="312.30" width="108.70" height="28.90"/></clipPath>
<rect x="374.00" y="312.30" width="16.00" height="28.90" fill="#000" opacity="0.03" filter="url(#bl2)"/>
<rect x="446.00" y="312.30" width="16.00" height="28.90" fill="#000" opacity="0.05" filter="url(#bl2)"/>
<path d="M375.50,328.60 Q375.50,327.10 377.75,327.10 L387.45,326.10 Q389.70,326.10 389.70,327.60 Q389.70,329.10 387.45,329.10 L377.75,330.10 Q375.50,330.10 375.50,328.60 Z" fill="#0a0a0a" opacity="1" filter="url(#bl)"/>
<path d="M389,328.5 L412,327.5" fill="none" stroke="#111" stroke-width="0.7" opacity="0.35" filter="url(#bl)"/>
<path d="M412.90,326.20 Q412.90,324.80 415.00,324.80 L423.70,324.30 Q425.80,324.30 425.80,325.70 Q425.80,327.10 423.70,327.10 L415.00,327.60 Q412.90,327.60 412.90,326.20 Z" fill="#0a0a0a" opacity="1" filter="url(#bl)"/>
<path d="M448.30,324.70 Q448.30,323.30 450.40,323.30 L459.10,323.00 Q461.20,323.00 461.20,324.40 Q461.20,325.80 459.10,325.80 L450.40,326.10 Q448.30,326.10 448.30,324.70 Z" fill="#0a0a0a" opacity="1" filter="url(#bl)"/>
</g>
<rect x="372.10" y="351.50" width="108.70" height="31.00" fill="#afafaf"/>
<g clip-path="url(#c3721_3515)">
<clipPath id="c3721_3515"><rect x="372.10" y="351.50" width="108.70" height="31.00"/></clipPath>
<path d="M377.60,367.20 Q377.60,366.10 379.25,366.10 L389.85,365.10 Q391.50,365.10 391.50,366.20 Q391.50,367.30 389.85,367.30 L379.25,368.30 Q377.60,368.30 377.60,367.20 Z" fill="#0a0a0a" opacity="0.9" filter="url(#bl)"/>
<path d="M416.30,365.70 Q416.30,364.60 417.95,364.60 L426.75,364.60 Q428.40,364.60 428.40,365.70 Q428.40,366.80 426.75,366.80 L417.95,366.80 Q416.30,366.80 416.30,365.70 Z" fill="#0a0a0a" opacity="0.9" filter="url(#bl)"/>
<path d="M451.70,364.40 Q451.70,363.15 453.57,363.15 L462.73,363.15 Q464.60,363.15 464.60,364.40 Q464.60,365.65 462.73,365.65 L453.57,365.65 Q451.70,365.65 451.70,364.40 Z" fill="#0a0a0a" opacity="1" filter="url(#bl)"/>
<rect x="377.00" y="358.90" width="14.00" height="1.20" fill="#000" opacity="0.096" filter="url(#bl3)"/>
<rect x="416.00" y="358.40" width="12.00" height="1.20" fill="#000" opacity="0.080" filter="url(#bl3)"/>
<rect x="451.00" y="355.90" width="14.00" height="1.20" fill="#000" opacity="0.120" filter="url(#bl3)"/>
</g>
<text x="0" y="0" font-size="6.7" font-weight="bold" text-anchor="middle" transform="translate(487.30,290.40) rotate(-90)" dy="2.41">BB2</text>
<text x="0" y="0" font-size="6.7" font-weight="bold" text-anchor="middle" transform="translate(487.30,325.90) rotate(-90)" dy="2.41">α-EF1-α</text>
<text x="0" y="0" font-size="6.7" font-weight="bold" text-anchor="middle" transform="translate(487.30,364.60) rotate(-90)" dy="2.41">α-PAD1</text>
<rect x="258.40" y="442.40" width="103.10" height="3" fill="#000"/>
<text x="308.00" y="439.85" font-size="7.9" font-weight="bold" text-anchor="middle" fill="#000" >+Dox</text>
<rect x="379.50" y="442.40" width="94.30" height="3" fill="#000"/>
<text x="426.00" y="436.35" font-size="7.9" font-weight="bold" text-anchor="middle" fill="#000" >-Dox</text>
<text x="269.40" y="461.90" font-size="8.2" font-weight="normal" text-anchor="middle" fill="#000" stroke="#000" stroke-width="0.15">M1</text>
<text x="285.10" y="461.90" font-size="8.2" font-weight="normal" text-anchor="middle" fill="#000" stroke="#000" stroke-width="0.15">M1</text>
<text x="303.30" y="461.90" font-size="8.2" font-weight="normal" text-anchor="middle" fill="#000" stroke="#000" stroke-width="0.15">M2</text>
<text x="318.10" y="461.90" font-size="8.2" font-weight="normal" text-anchor="middle" fill="#000" stroke="#000" stroke-width="0.15">M2</text>
<text x="336.40" y="461.90" font-size="8.2" font-weight="normal" text-anchor="middle" fill="#000" stroke="#000" stroke-width="0.15">M3</text>
<text x="353.60" y="461.90" font-size="8.2" font-weight="normal" text-anchor="middle" fill="#000" stroke="#000" stroke-width="0.15">M3</text>
<text x="383.00" y="461.90" font-size="8.2" font-weight="normal" text-anchor="middle" fill="#000" stroke="#000" stroke-width="0.15">M1</text>
<text x="398.70" y="461.90" font-size="8.2" font-weight="normal" text-anchor="middle" fill="#000" stroke="#000" stroke-width="0.15">M1</text>
<text x="416.60" y="461.90" font-size="8.2" font-weight="normal" text-anchor="middle" fill="#000" stroke="#000" stroke-width="0.15">M2</text>
<text x="432.30" y="461.90" font-size="8.2" font-weight="normal" text-anchor="middle" fill="#000" stroke="#000" stroke-width="0.15">M2</text>
<text x="449.60" y="461.90" font-size="8.2" font-weight="normal" text-anchor="middle" fill="#000" stroke="#000" stroke-width="0.15">M3</text>
<text x="467.50" y="461.90" font-size="8.2" font-weight="normal" text-anchor="middle" fill="#000" stroke="#000" stroke-width="0.15">M3</text>
<text x="254.00" y="490.90" font-size="6.6" font-weight="bold" text-anchor="end" fill="#000" >80.7kDa</text>
<text x="252.50" y="530.90" font-size="6.6" font-weight="bold" text-anchor="end" fill="#000" >50kDa</text>
<text x="252.50" y="571.90" font-size="6.6" font-weight="bold" text-anchor="end" fill="#000" >50kDa</text>
<rect x="257.10" y="468.00" width="108.70" height="37.90" fill="#c6c6c6"/>
<g clip-path="url(#c2571_4680)">
<clipPath id="c2571_4680"><rect x="257.10" y="468.00" width="108.70" height="37.90"/></clipPath>
<ellipse cx="273.00" cy="485.20" rx="1.60" ry="3.60" fill="#000" opacity="0.9" filter="url(#bl2)"/>
<ellipse cx="272.00" cy="480.50" rx="1.20" ry="2.50" fill="#000" opacity="0.45" filter="url(#bl2)"/>
<ellipse cx="282.00" cy="484.00" rx="2.50" ry="2.50" fill="#000" opacity="0.12" filter="url(#bl2)"/>
<path d="M259.10,489.00 Q259.10,486.80 262.40,486.80 L271.50,486.80 Q274.80,486.80 274.80,489.00 Q274.80,491.20 271.50,491.20 L262.40,491.20 Q259.10,491.20 259.10,489.00 Z" fill="#0a0a0a" opacity="1" filter="url(#bl)"/>
<path d="M277.90,487.70 Q277.90,485.95 280.52,485.95 L288.57,485.95 Q291.20,485.95 291.20,487.70 Q291.20,489.45 288.57,489.45 L280.52,489.45 Q277.90,489.45 277.90,487.70 Z" fill="#0a0a0a" opacity="1" filter="url(#bl)"/>
<path d="M295.10,488.20 Q295.10,486.40 297.80,486.40 L306.30,486.40 Q309.00,486.40 309.00,488.20 Q309.00,490.00 306.30,490.00 L297.80,490.00 Q295.10,490.00 295.10,488.20 Z" fill="#0a0a0a" opacity="1" filter="url(#bl)"/>
<path d="M312.80,487.60 Q312.80,486.25 314.82,486.25 L323.98,486.25 Q326.00,486.25 326.00,487.60 Q326.00,488.95 323.98,488.95 L314.82,488.95 Q312.80,488.95 312.80,487.60 Z" fill="#0a0a0a" opacity="0.95" filter="url(#bl)"/>
<path d="M329.10,487.60 Q329.10,486.00 331.50,486.00 L340.20,486.00 Q342.60,486.00 342.60,487.60 Q342.60,489.20 340.20,489.20 L331.50,489.20 Q329.10,489.20 329.10,487.60 Z" fill="#0a0a0a" opacity="1" filter="url(#bl)"/>
<path d="M346.40,487.00 Q346.40,485.70 348.35,485.70 L359.55,485.70 Q361.50,485.70 361.50,487.00 Q361.50,488.30 359.55,488.30 L348.35,488.30 Q346.40,488.30 346.40,487.00 Z" fill="#0a0a0a" opacity="0.9" filter="url(#bl)"/>
</g>
<rect x="257.10" y="512.40" width="108.70" height="32.10" fill="#dddddd"/>
<g clip-path="url(#c2571_5124)">
<clipPath id="c2571_5124"><rect x="257.10" y="512.40" width="108.70" height="32.10"/></clipPath>
<path d="M259.30,527.40 Q259.30,525.95 261.48,525.95 L272.82,525.95 Q275.00,525.95 275.00,527.40 Q275.00,528.85 272.82,528.85 L261.48,528.85 Q259.30,528.85 259.30,527.40 Z" fill="#0a0a0a" opacity="1" filter="url(#bl)"/>
<path d="M297.70,527.60 Q297.70,526.15 299.88,526.15 L309.02,526.15 Q311.20,526.15 311.20,527.60 Q311.20,529.05 309.02,529.05 L299.88,529.05 Q297.70,529.05 297.70,527.60 Z" fill="#0a0a0a" opacity="1" filter="url(#bl)"/>
<path d="M333.20,526.80 Q333.20,525.45 335.22,525.45 L345.38,525.45 Q347.40,525.45 347.40,526.80 Q347.40,528.15 345.38,528.15 L335.22,528.15 Q333.20,528.15 333.20,526.80 Z" fill="#0a0a0a" opacity="1" filter="url(#bl)"/>
<rect x="259.00" y="515.25" width="16.00" height="1.50" fill="#000" opacity="0.120" filter="url(#bl3)"/>
<rect x="259.00" y="517.75" width="16.00" height="1.50" fill="#000" opacity="0.120" filter="url(#bl3)"/>
<rect x="297.00" y="515.25" width="14.00" height="1.50" fill="#000" opacity="0.120" filter="url(#bl3)"/>
<rect x="297.00" y="517.75" width="14.00" height="1.50" fill="#000" opacity="0.120" filter="url(#bl3)"/>
<rect x="333.00" y="515.75" width="14.00" height="1.50" fill="#000" opacity="0.104" filter="url(#bl3)"/>
</g>
<rect x="257.10" y="553.30" width="108.70" height="35.90" fill="#d7d7d7"/>
<g clip-path="url(#c2571_5533)">
<clipPath id="c2571_5533"><rect x="257.10" y="553.30" width="108.70" height="35.90"/></clipPath>
<path d="M259.30,569.90 Q259.30,568.80 260.95,568.80 L271.85,568.80 Q273.50,568.80 273.50,569.90 Q273.50,571.00 271.85,571.00 L260.95,571.00 Q259.30,571.00 259.30,569.90 Z" fill="#0a0a0a" opacity="0.85" filter="url(#bl)"/>
<path d="M295.50,569.70 Q295.50,568.50 297.30,568.50 L307.80,568.50 Q309.60,568.50 309.60,569.70 Q309.60,570.90 307.80,570.90 L297.30,570.90 Q295.50,570.90 295.50,569.70 Z" fill="#0a0a0a" opacity="0.95" filter="url(#bl)"/>
<path d="M330.70,569.20 Q330.70,568.00 332.50,568.00 L343.00,567.40 Q344.80,567.40 344.80,568.60 Q344.80,569.80 343.00,569.80 L332.50,570.40 Q330.70,570.40 330.70,569.20 Z" fill="#0a0a0a" opacity="0.95" filter="url(#bl)"/>
<rect x="259.00" y="558.40" width="14.00" height="1.20" fill="#000" opacity="0.064" filter="url(#bl3)"/>
<rect x="295.00" y="558.40" width="14.00" height="1.20" fill="#000" opacity="0.064" filter="url(#bl3)"/>
<rect x="330.00" y="557.40" width="15.00" height="1.20" fill="#000" opacity="0.064" filter="url(#bl3)"/>
</g>
<rect x="372.00" y="468.10" width="108.40" height="38.00" fill="#d9d9d9"/>
<g clip-path="url(#c3720_4681)">
<clipPath id="c3720_4681"><rect x="372.00" y="468.10" width="108.40" height="38.00"/></clipPath>
<path d="M462,490 Q470,487 480,486" fill="none" stroke="#111" stroke-width="1" opacity="0.1" filter="url(#bl)"/>
</g>
<rect x="372.00" y="513.00" width="108.40" height="32.40" fill="#d8d8d8"/>
<g clip-path="url(#c3720_5130)">
<clipPath id="c3720_5130"><rect x="372.00" y="513.00" width="108.40" height="32.40"/></clipPath>
<path d="M373.20,529.60 Q373.20,528.05 375.52,528.05 L385.98,528.05 Q388.30,528.05 388.30,529.60 Q388.30,531.15 385.98,531.15 L375.52,531.15 Q373.20,531.15 373.20,529.60 Z" fill="#0a0a0a" opacity="1" filter="url(#bl)"/>
<path d="M410.30,527.60 Q410.30,526.15 412.48,526.15 L422.32,526.15 Q424.50,526.15 424.50,527.60 Q424.50,529.05 422.32,529.05 L412.48,529.05 Q410.30,529.05 410.30,527.60 Z" fill="#0a0a0a" opacity="1" filter="url(#bl)"/>
<path d="M446.50,525.00 Q446.50,523.70 448.45,523.70 L457.05,521.90 Q459.00,521.90 459.00,523.20 Q459.00,524.50 457.05,524.50 L448.45,526.30 Q446.50,526.30 446.50,525.00 Z" fill="#0a0a0a" opacity="1" filter="url(#bl)"/>
<ellipse cx="457.20" cy="522.50" rx="1.30" ry="2.20" fill="#000" opacity="0.9" filter="url(#bl2)"/>
<rect x="374.00" y="518.25" width="14.00" height="1.50" fill="#000" opacity="0.080" filter="url(#bl3)"/>
<rect x="374.00" y="520.25" width="14.00" height="1.50" fill="#000" opacity="0.080" filter="url(#bl3)"/>
<rect x="410.00" y="518.25" width="14.00" height="1.50" fill="#000" opacity="0.056" filter="url(#bl3)"/>
<rect x="446.00" y="516.25" width="12.00" height="1.50" fill="#000" opacity="0.080" filter="url(#bl3)"/>
</g>
<rect x="372.00" y="553.30" width="108.40" height="36.20" fill="#cfcfcf"/>
<g clip-path="url(#c3720_5533)">
<clipPath id="c3720_5533"><rect x="372.00" y="553.30" width="108.40" height="36.20"/></clipPath>
<path d="M373.20,570.30 Q373.20,569.20 374.85,569.20 L386.65,569.20 Q388.30,569.20 388.30,570.30 Q388.30,571.40 386.65,571.40 L374.85,571.40 Q373.20,571.40 373.20,570.30 Z" fill="#0a0a0a" opacity="0.9" filter="url(#bl)"/>
<path d="M411.90,569.00 Q411.90,568.00 413.40,568.00 L425.20,568.00 Q426.70,568.00 426.70,569.00 Q426.70,570.00 425.20,570.00 L413.40,570.00 Q411.90,570.00 411.90,569.00 Z" fill="#0a0a0a" opacity="0.6" filter="url(#bl)"/>
<path d="M450.60,567.20 Q450.60,566.15 452.18,566.15 L460.62,564.55 Q462.20,564.55 462.20,565.60 Q462.20,566.65 460.62,566.65 L452.18,568.25 Q450.60,568.25 450.60,567.20 Z" fill="#0a0a0a" opacity="0.55" filter="url(#bl)"/>
</g>
<text x="0" y="0" font-size="6.7" font-weight="bold" text-anchor="middle" transform="translate(487.60,486.60) rotate(-90)" dy="2.41">BB2</text>
<text x="0" y="0" font-size="6.7" font-weight="bold" text-anchor="middle" transform="translate(487.60,531.30) rotate(-90)" dy="2.41">α-EF1-α</text>
<text x="0" y="0" font-size="6.7" font-weight="bold" text-anchor="middle" transform="translate(487.60,574.40) rotate(-90)" dy="2.41">α-PAD1</text>
<text x="267.70" y="601.40" font-size="11.3" font-weight="normal" text-anchor="middle" fill="#000" stroke="#000" stroke-width="0.2">P</text>
<text x="284.30" y="601.40" font-size="11.3" font-weight="normal" text-anchor="middle" fill="#000" stroke="#000" stroke-width="0.2">S</text>
<text x="303.30" y="601.40" font-size="11.3" font-weight="normal" text-anchor="middle" fill="#000" stroke="#000" stroke-width="0.2">P</text>
<text x="322.40" y="601.40" font-size="11.3" font-weight="normal" text-anchor="middle" fill="#000" stroke="#000" stroke-width="0.2">S</text>
<text x="338.60" y="601.40" font-size="11.3" font-weight="normal" text-anchor="middle" fill="#000" stroke="#000" stroke-width="0.2">P</text>
<text x="355.40" y="601.40" font-size="11.3" font-weight="normal" text-anchor="middle" fill="#000" stroke="#000" stroke-width="0.2">S</text>
<text x="384.20" y="601.80" font-size="11.3" font-weight="normal" text-anchor="middle" fill="#000" stroke="#000" stroke-width="0.2">P</text>
<text x="403.00" y="601.80" font-size="11.3" font-weight="normal" text-anchor="middle" fill="#000" stroke="#000" stroke-width="0.2">S</text>
<text x="418.80" y="601.80" font-size="11.3" font-weight="normal" text-anchor="middle" fill="#000" stroke="#000" stroke-width="0.2">P</text>
<text x="438.50" y="601.80" font-size="11.3" font-weight="normal" text-anchor="middle" fill="#000" stroke="#000" stroke-width="0.2">S</text>
<text x="455.90" y="601.80" font-size="11.3" font-weight="normal" text-anchor="middle" fill="#000" stroke="#000" stroke-width="0.2">P</text>
<text x="473.80" y="601.80" font-size="11.3" font-weight="normal" text-anchor="middle" fill="#000" stroke="#000" stroke-width="0.2">S</text>
<text x="619.70" y="51.40" font-size="8.6" font-weight="bold" text-anchor="middle" fill="#000" >Tb927.8.7020 OE / RBP7 KO</text>
<rect x="577.90" y="134.39" width="20.10" height="48.01" fill="#f00" stroke="#000" stroke-width="1.6"/>
<rect x="601.20" y="128.39" width="19.60" height="54.01" fill="#00f" stroke="#000" stroke-width="1.6"/>
<path d="M588.20,140.28 L588.20,127.12 M582.80,140.28 L593.60,140.28 M582.80,127.12 L593.60,127.12" stroke="#000" stroke-width="1.3" fill="none"/>
<path d="M611.00,139.01 L611.00,116.28 M605.60,139.01 L616.40,139.01 M605.60,116.28 L616.40,116.28" stroke="#000" stroke-width="1.3" fill="none"/>
<circle cx="588.20" cy="122.50" r="2.2" fill="#000"/>
<circle cx="588.20" cy="135.10" r="2.2" fill="#000"/>
<circle cx="588.20" cy="144.30" r="2.2" fill="#000"/>
<circle cx="611.00" cy="112.70" r="2.2" fill="#000"/>
<circle cx="611.00" cy="121.40" r="2.2" fill="#000"/>
<circle cx="611.00" cy="150.20" r="2.2" fill="#000"/>
<path d="M566.40,67.00 L566.40,182.40 L631.70,182.40" fill="none" stroke="#000" stroke-width="1.3"/>
<line x1="561.90" y1="182.40" x2="566.40" y2="182.40" stroke="#000" stroke-width="1.3"/>
<text x="561.20" y="185.30" font-size="8.2" font-weight="bold" text-anchor="end" fill="#000" >0</text>
<line x1="561.90" y1="159.32" x2="566.40" y2="159.32" stroke="#000" stroke-width="1.3"/>
<text x="561.20" y="162.22" font-size="8.2" font-weight="bold" text-anchor="end" fill="#000" >20</text>
<line x1="561.90" y1="136.24" x2="566.40" y2="136.24" stroke="#000" stroke-width="1.3"/>
<text x="561.20" y="139.14" font-size="8.2" font-weight="bold" text-anchor="end" fill="#000" >40</text>
<line x1="561.90" y1="113.16" x2="566.40" y2="113.16" stroke="#000" stroke-width="1.3"/>
<text x="561.20" y="116.06" font-size="8.2" font-weight="bold" text-anchor="end" fill="#000" >60</text>
<line x1="561.90" y1="90.08" x2="566.40" y2="90.08" stroke="#000" stroke-width="1.3"/>
<text x="561.20" y="92.98" font-size="8.2" font-weight="bold" text-anchor="end" fill="#000" >80</text>
<line x1="561.90" y1="67.00" x2="566.40" y2="67.00" stroke="#000" stroke-width="1.3"/>
<text x="561.20" y="69.90" font-size="8.2" font-weight="bold" text-anchor="end" fill="#000" >100</text>
<line x1="599.30" y1="182.40" x2="599.30" y2="187.40" stroke="#000" stroke-width="1.3"/>
<text x="599.10" y="196.20" font-size="8.9" font-weight="bold" text-anchor="middle" fill="#000" >6</text>
<text x="599.60" y="211.00" font-size="9.1" font-weight="bold" text-anchor="middle" fill="#000" >Days post infection</text>
<text x="0" y="0" font-size="9.2" font-weight="bold" text-anchor="middle" transform="translate(537.00,125.80) rotate(-90)" dy="3.31">% of PAD1 positive cells</text>
<rect x="579.00" y="79.00" width="13.00" height="5.80" fill="#f00" stroke="#000" stroke-width="1.6"/>
<rect x="579.00" y="88.30" width="13.00" height="5.80" fill="#00f" stroke="#000" stroke-width="1.6"/>
<text x="598.60" y="85.00" font-size="8.6" font-weight="bold" text-anchor="start" fill="#000" >+Dox</text>
<text x="598.60" y="94.30" font-size="8.6" font-weight="bold" text-anchor="start" fill="#000" >-Dox</text>
<text x="624.60" y="249.50" font-size="8.6" font-weight="bold" text-anchor="middle" fill="#000" >Tb927.11.2500 OE / RBP7 KO</text>
<rect x="581.10" y="352.31" width="19.90" height="27.49" fill="#f00" stroke="#000" stroke-width="1.6"/>
<rect x="604.10" y="365.71" width="19.90" height="14.09" fill="#00f" stroke="#000" stroke-width="1.6"/>
<path d="M590.90,360.51 L590.90,343.65 M585.50,360.51 L596.30,360.51 M585.50,343.65 L596.30,343.65" stroke="#000" stroke-width="1.3" fill="none"/>
<path d="M613.90,370.56 L613.90,360.51 M608.50,370.56 L619.30,370.56 M608.50,360.51 L619.30,360.51" stroke="#000" stroke-width="1.3" fill="none"/>
<circle cx="590.90" cy="338.90" r="2.2" fill="#000"/>
<circle cx="590.90" cy="349.30" r="2.2" fill="#000"/>
<circle cx="590.90" cy="368.20" r="2.2" fill="#000"/>
<circle cx="613.90" cy="354.00" r="2.2" fill="#000"/>
<circle cx="608.80" cy="370.40" r="2.2" fill="#000"/>
<circle cx="618.90" cy="370.40" r="2.2" fill="#000"/>
<path d="M570.10,264.30 L570.10,379.80 L634.60,379.80" fill="none" stroke="#000" stroke-width="1.3"/>
<line x1="565.60" y1="379.80" x2="570.10" y2="379.80" stroke="#000" stroke-width="1.3"/>
<text x="564.90" y="382.70" font-size="8.2" font-weight="bold" text-anchor="end" fill="#000" >0</text>
<line x1="565.60" y1="356.70" x2="570.10" y2="356.70" stroke="#000" stroke-width="1.3"/>
<text x="564.90" y="359.60" font-size="8.2" font-weight="bold" text-anchor="end" fill="#000" >20</text>
<line x1="565.60" y1="333.60" x2="570.10" y2="333.60" stroke="#000" stroke-width="1.3"/>
<text x="564.90" y="336.50" font-size="8.2" font-weight="bold" text-anchor="end" fill="#000" >40</text>
<line x1="565.60" y1="310.50" x2="570.10" y2="310.50" stroke="#000" stroke-width="1.3"/>
<text x="564.90" y="313.40" font-size="8.2" font-weight="bold" text-anchor="end" fill="#000" >60</text>
<line x1="565.60" y1="287.40" x2="570.10" y2="287.40" stroke="#000" stroke-width="1.3"/>
<text x="564.90" y="290.30" font-size="8.2" font-weight="bold" text-anchor="end" fill="#000" >80</text>
<line x1="565.60" y1="264.30" x2="570.10" y2="264.30" stroke="#000" stroke-width="1.3"/>
<text x="564.90" y="267.20" font-size="8.2" font-weight="bold" text-anchor="end" fill="#000" >100</text>
<line x1="602.40" y1="379.80" x2="602.40" y2="384.80" stroke="#000" stroke-width="1.3"/>
<text x="602.20" y="393.60" font-size="8.9" font-weight="bold" text-anchor="middle" fill="#000" >6</text>
<text x="602.50" y="408.50" font-size="9.1" font-weight="bold" text-anchor="middle" fill="#000" >Days post infection</text>
<text x="0" y="0" font-size="9.2" font-weight="bold" text-anchor="middle" transform="translate(541.20,322.50) rotate(-90)" dy="3.31">% of PAD1 positive cells</text>
<rect x="581.50" y="276.00" width="14.80" height="6.30" fill="#f00" stroke="#000" stroke-width="1.6"/>
<rect x="581.50" y="286.40" width="14.80" height="6.30" fill="#00f" stroke="#000" stroke-width="1.6"/>
<text x="601.00" y="282.25" font-size="8.6" font-weight="bold" text-anchor="start" fill="#000" >+Dox</text>
<text x="601.00" y="292.65" font-size="8.6" font-weight="bold" text-anchor="start" fill="#000" >-Dox</text>
<text x="563.80" y="459.00" font-size="8.6" font-weight="bold" text-anchor="start" fill="#000" >Tb927.11.12850 OE / RBP7 KO</text>
<rect x="570.10" y="551.53" width="27.70" height="37.77" fill="#f00" stroke="#000" stroke-width="1.6"/>
<rect x="601.00" y="560.31" width="27.70" height="28.99" fill="#00f" stroke="#000" stroke-width="1.6"/>
<path d="M583.70,557.42 L583.70,543.68 M578.30,557.42 L589.10,557.42 M578.30,543.68 L589.10,543.68" stroke="#000" stroke-width="1.3" fill="none"/>
<path d="M615.10,562.73 L615.10,556.38 M609.70,562.73 L620.50,562.73 M609.70,556.38 L620.50,556.38" stroke="#000" stroke-width="1.3" fill="none"/>
<circle cx="579.60" cy="542.00" r="2.2" fill="#000"/>
<circle cx="588.40" cy="545.50" r="2.2" fill="#000"/>
<circle cx="583.70" cy="564.10" r="2.2" fill="#000"/>
<circle cx="610.40" cy="554.60" r="2.2" fill="#000"/>
<circle cx="619.90" cy="558.70" r="2.2" fill="#000"/>
<circle cx="615.10" cy="565.70" r="2.2" fill="#000"/>
<path d="M567.00,473.80 L567.00,589.30 L631.50,589.30" fill="none" stroke="#000" stroke-width="1.3"/>
<line x1="562.50" y1="589.30" x2="567.00" y2="589.30" stroke="#000" stroke-width="1.3"/>
<text x="561.80" y="592.20" font-size="8.2" font-weight="bold" text-anchor="end" fill="#000" >0</text>
<line x1="562.50" y1="566.20" x2="567.00" y2="566.20" stroke="#000" stroke-width="1.3"/>
<text x="561.80" y="569.10" font-size="8.2" font-weight="bold" text-anchor="end" fill="#000" >20</text>
<line x1="562.50" y1="543.10" x2="567.00" y2="543.10" stroke="#000" stroke-width="1.3"/>
<text x="561.80" y="546.00" font-size="8.2" font-weight="bold" text-anchor="end" fill="#000" >40</text>
<line x1="562.50" y1="520.00" x2="567.00" y2="520.00" stroke="#000" stroke-width="1.3"/>
<text x="561.80" y="522.90" font-size="8.2" font-weight="bold" text-anchor="end" fill="#000" >60</text>
<line x1="562.50" y1="496.90" x2="567.00" y2="496.90" stroke="#000" stroke-width="1.3"/>
<text x="561.80" y="499.80" font-size="8.2" font-weight="bold" text-anchor="end" fill="#000" >80</text>
<line x1="562.50" y1="473.80" x2="567.00" y2="473.80" stroke="#000" stroke-width="1.3"/>
<text x="561.80" y="476.70" font-size="8.2" font-weight="bold" text-anchor="end" fill="#000" >100</text>
<line x1="599.40" y1="589.30" x2="599.40" y2="594.30" stroke="#000" stroke-width="1.3"/>
<text x="599.20" y="603.10" font-size="8.9" font-weight="bold" text-anchor="middle" fill="#000" >6</text>
<text x="599.70" y="618.00" font-size="9.1" font-weight="bold" text-anchor="middle" fill="#000" >Days post infection</text>
<text x="0" y="0" font-size="9.2" font-weight="bold" text-anchor="middle" transform="translate(536.50,532.00) rotate(-90)" dy="3.31">% of PAD1 positive cells</text>
<rect x="579.00" y="485.70" width="14.10" height="6.30" fill="#f00" stroke="#000" stroke-width="1.6"/>
<rect x="579.00" y="496.40" width="14.10" height="6.30" fill="#00f" stroke="#000" stroke-width="1.6"/>
<text x="598.80" y="491.95" font-size="8.6" font-weight="bold" text-anchor="start" fill="#000" >+Dox</text>
<text x="598.80" y="502.65" font-size="8.6" font-weight="bold" text-anchor="start" fill="#000" >-Dox</text>
</svg>
</body></html>
